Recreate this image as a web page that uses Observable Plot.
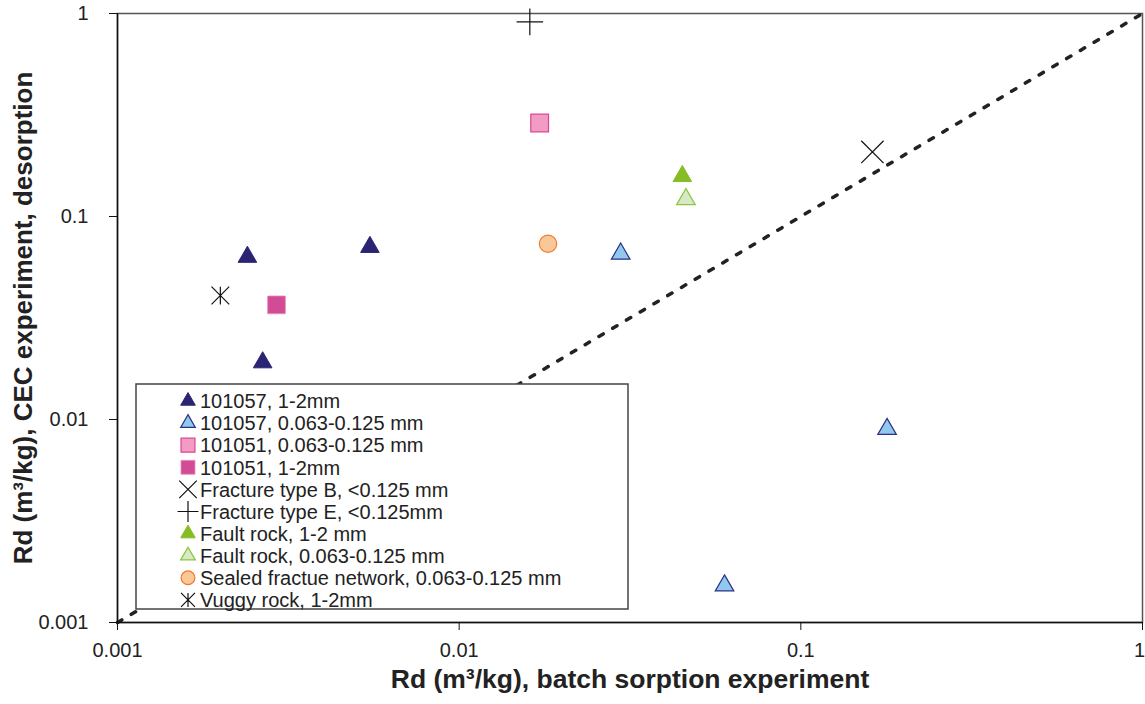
<!DOCTYPE html>
<html><head><meta charset="utf-8">
<script src="https://cdn.jsdelivr.net/npm/d3@7"></script>
<script src="https://cdn.jsdelivr.net/npm/@observablehq/plot@0.6"></script>
<style>
body{margin:0;background:#fff;font-family:"Liberation Sans",Arial,sans-serif}
#chart svg{display:block}
</style>
</head><body><div id="chart"></div>
<script>
// ---- data ----
const seriesNames = [
  "101057, 1-2mm",
  "101057, 0.063-0.125 mm",
  "101051, 0.063-0.125 mm",
  "101051, 1-2mm",
  "Fracture type B, <0.125 mm",
  "Fracture type E, <0.125mm",
  "Fault rock, 1-2 mm",
  "Fault rock, 0.063-0.125 mm",
  "Sealed fractue network, 0.063-0.125 mm",
  "Vuggy rock, 1-2mm"
];
const s101057coarseX = [0.00240, 0.00548, 0.00266];
const s101057coarseY = [0.0632, 0.0707, 0.0191];
const s101057fineX = [0.0297, 0.1788, 0.0598];
const s101057fineY = [0.0655, 0.00897, 0.00152];
const s101051fineX = [0.0172];
const s101051fineY = [0.289];
const s101051coarseX = [0.00292];
const s101051coarseY = [0.0367];
const fracBX = [0.162];
const fracBY = [0.208];
const fracEX = [0.0161];
const fracEY = [0.909];
const faultCoarseX = [0.0450];
const faultCoarseY = [0.158];
const faultFineX = [0.0461];
const faultFineY = [0.1216];
const sealedX = [0.0182];
const sealedY = [0.0734];
const vuggyX = [0.00200];
const vuggyY = [0.0408];
const oneToOne = [0.001, 1];
const tickValues = [0.001, 0.01, 0.1, 1];
const tickLabels = ["0.001", "0.01", "0.1", "1"];
const xTitle = "Rd (m\u00B3/kg), batch sorption experiment";
const yTitle = "Rd (m\u00B3/kg), CEC experiment, desorption";

// ---- styles ----
const asteriskX = {
  draw(ctx, size) {
    const r = Math.sqrt(size) * 0.5;
    ctx.moveTo(-r, -r); ctx.lineTo(r, r);
    ctx.moveTo(-r, r); ctx.lineTo(r, -r);
    ctx.moveTo(0, -r); ctx.lineTo(0, r);
  }
};
const styles = [
  {symbol: "triangle", r: 6.9, fill: "#2a2473", stroke: "#2a2473", sw: 1},
  {symbol: "triangle", r: 6.9, fill: "#8fcaee", stroke: "#2e2f86", sw: 1.2},
  {symbol: "square", r: 10, fill: "#f29bc4", stroke: "#d9488f", sw: 1.2},
  {symbol: "square", r: 10, fill: "#d24c95", stroke: "#e88cbc", sw: 0.8},
  {symbol: "times", r: 10.2, fill: "none", stroke: "#111", sw: 1.2},
  {symbol: "plus", r: 8.6, fill: "none", stroke: "#111", sw: 1.2},
  {symbol: "triangle", r: 6.9, fill: "#86bc24", stroke: "#86bc24", sw: 1},
  {symbol: "triangle", r: 6.9, fill: "#d8e9c8", stroke: "#8cc63e", sw: 1.3},
  {symbol: "circle", r: 8.7, fill: "#f9c899", stroke: "#ef7b2b", sw: 1.2},
  {symbol: asteriskX, r: 10, fill: "none", stroke: "#111", sw: 1.2}
];
const seriesData = [
  [s101057coarseX, s101057coarseY],
  [s101057fineX, s101057fineY],
  [s101051fineX, s101051fineY],
  [s101051coarseX, s101051coarseY],
  [fracBX, fracBY],
  [fracEX, fracEY],
  [faultCoarseX, faultCoarseY],
  [faultFineX, faultFineY],
  [sealedX, sealedY],
  [vuggyX, vuggyY]
];

const dotMarks = seriesData.map(([xs, ys], i) => {
  const st = styles[i];
  const rows = xs.map((x, j) => ({x, y: ys[j]}));
  return Plot.dot(rows, {x: "x", y: "y", symbol: st.symbol, r: st.r,
    fill: st.fill, stroke: st.stroke, strokeWidth: st.sw});
});

const fmt = d => tickLabels[tickValues.indexOf(d)];

const chart = Plot.plot({
  width: 1145,
  height: 704,
  marginLeft: 117,
  marginRight: 3,
  marginTop: 13,
  marginBottom: 82,
  style: {fontFamily: "'Liberation Sans', Arial, sans-serif", background: "#fff", overflow: "visible"},
  x: {type: "log", domain: [0.001, 1]},
  y: {type: "log", domain: [0.001, 1]},
  marks: [
    Plot.frame({stroke: "#555", strokeWidth: 1.5}),
    Plot.line(oneToOne.map(v => ({x: v, y: v})), {x: "x", y: "y",
      stroke: "#222", strokeWidth: 3.5, strokeDasharray: "5,11"}),
    Plot.axisX({ticks: tickValues, tickFormat: fmt, tickSize: 8, tickPadding: 12,
      fontSize: 20, label: null, stroke: "#111", color: "#222"}),
    Plot.axisY({ticks: tickValues, tickFormat: fmt, tickSize: 8, tickPadding: 21,
      fontSize: 20, label: null, stroke: "#111", color: "#222"}),
    Plot.ruleX([0.001], {stroke: "#111", strokeWidth: 1.5}),
    Plot.ruleY([0.001], {stroke: "#111", strokeWidth: 1.5}),
    Plot.text([xTitle], {frameAnchor: "bottom", dy: 65, textAnchor: "middle", fontSize: 26.5, fontWeight: "bold", fill: "#222"}),
    Plot.text([yTitle], {frameAnchor: "left", dx: -94, textAnchor: "middle", rotate: -90, fontSize: 26, fontWeight: "bold", fill: "#222"}),
    ...dotMarks
  ]
});
document.getElementById("chart").appendChild(chart);

// keep the last x tick label ("1") inside the picture, as in the reference
d3.select(chart).selectAll("g[aria-label='x-axis tick label'] text")
  .filter(function() { return this.textContent === "1"; })
  .attr("dx", -3);

// ---- legend box (drawn on the same SVG) ----
const svg = d3.select(chart);
const lg = svg.append("g").attr("class", "legend").attr("text-anchor", "start");
const lx = 136, ly = 384, lw = 492, lh = 225;
lg.append("rect").attr("x", lx).attr("y", ly).attr("width", lw).attr("height", lh)
  .attr("fill", "#fff").attr("stroke", "#444").attr("stroke-width", 1.5);
const symMap = {triangle: d3.symbolTriangle, square: d3.symbolSquare, circle: d3.symbolCircle,
  times: d3.symbolTimes, plus: d3.symbolPlus};
seriesNames.forEach((name, i) => {
  const st = styles[i];
  const cy = ly + 17 + i * 22.1;
  const type = typeof st.symbol === "string" ? symMap[st.symbol] : st.symbol;
  const size = Math.PI * st.r * st.r * 0.62;
  lg.append("path").attr("d", d3.symbol(type, size)())
    .attr("transform", `translate(${lx + 52},${cy})`)
    .attr("fill", st.fill).attr("stroke", st.stroke).attr("stroke-width", st.sw);
  lg.append("text").attr("x", lx + 64).attr("y", cy).attr("dy", "0.36em")
    .attr("text-anchor", "start")
    .attr("font-size", 20).attr("fill", "#222").text(name);
});
// move the dots above the legend
chart.querySelectorAll("g[aria-label='dot']").forEach(g => chart.appendChild(g));
</script>
</body></html>
